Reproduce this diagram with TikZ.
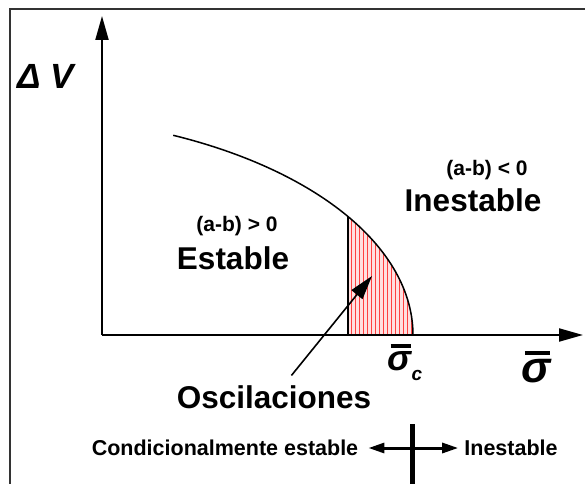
\documentclass[tikz,border=0pt]{standalone}
\usepackage{fontspec}
\setmainfont{Liberation Sans}
\usetikzlibrary{arrows.meta, positioning}

% bar over a glyph
\newcommand{\barglyph}[1]{\setbox0\hbox{#1}\rlap{\hspace{0.12\wd0}\rule[1.18\ht0]{0.85\wd0}{0.09em}}\box0}

\begin{document}
\begin{tikzpicture}[
  x=1pt, y=-1pt,
  big/.style={font=\bfseries\fontsize{31.5}{34}\selectfont, inner sep=2pt},
  cond/.style={font=\bfseries\fontsize{21}{23}\selectfont, inner sep=2pt},
  note/.style={font=\bfseries\fontsize{21.5}{23}\selectfont, inner sep=2pt},
  axis/.style={line width=2pt, -{Triangle[length=24pt, width=13pt]}},
  arrow/.style={line width=1.6pt, -{Triangle[length=24pt, width=14pt]}},
  dblarrow/.style={line width=3pt, {Triangle[length=16pt, width=10pt]}-{Triangle[length=16pt, width=10pt]}}
]
  \useasboundingbox (0,0) rectangle (585,484);
  % frame (top and left only)
  \draw[line width=2.2pt, black!80] (585,9) -- (10,9) -- (10,484);

  % hatched region
  \fill[red!12] (348,335) -- plot[domain=32.6:0, samples=40] ({413*cos(\x)}, {335-220*sin(\x)}) -- cycle;
  \begin{scope}
    \clip (348,335) -- plot[domain=32.6:0, samples=40] ({413*cos(\x)}, {335-220*sin(\x)}) -- cycle;
    \foreach \i in {351,355,...,415}
      \draw[red!75, line width=0.9pt] (\i,200) -- (\i,340);
  \end{scope}

  % axes
  \coordinate (origin) at (102,335);
  \coordinate (ytop) at (102,16);
  \coordinate (xend) at (583,335);
  \draw[axis] (origin) -- (ytop);
  \draw[axis] (origin) -- (xend);

  % curve
  \draw[line width=1.5pt] plot[domain=0:65.2, samples=80] ({413*cos(\x)}, {335-220*sin(\x)});
  \coordinate (vbot) at (348,335);
  \coordinate (vtop) at (348,216.5);
  \draw[line width=2pt] (vbot) -- (vtop);

  % labels
  \node[font=\bfseries\itshape\fontsize{35}{37}\selectfont, inner sep=0pt] (dv) at (46,76) {Δ V};
  \node[cond] (cpos) at (237,226) {(a-b) > 0};
  \node[big] (est) at (233,258) {Estable};
  \node[cond] (cneg) at (487,170) {(a-b) < 0};
  \node[big] (ines) at (473,200) {Inestable};
  \node[font=\bfseries\itshape\fontsize{36}{38}\selectfont, inner sep=0pt, anchor=base] (sigc) at (405,370) {\barglyph{σ}\raisebox{-0.3em}{\fontsize{19}{20}\selectfont c}};
  \node[font=\bfseries\itshape\fontsize{44}{46}\selectfont, inner sep=0pt, anchor=base] (sig) at (536,382) {\barglyph{σ}};
  \node[big] (osc) at (274,397) {Oscilaciones};

  \coordinate (osctip) at (372,276);
  \draw[arrow, shorten <=10pt] (osc) -- (osctip);

  % bottom legend
  \node[note] (condest) at (225,448) {Condicionalmente estable};
  \node[note] (inesb) at (511,448) {Inestable};
  \coordinate (crosstop) at (412,424);
  \coordinate (crossbot) at (412,484);
  \draw[line width=5pt] (crosstop) -- (crossbot);
  \draw[dblarrow, shorten <=8pt, shorten >=4pt] (condest) -- (inesb);
\end{tikzpicture}
\end{document}
